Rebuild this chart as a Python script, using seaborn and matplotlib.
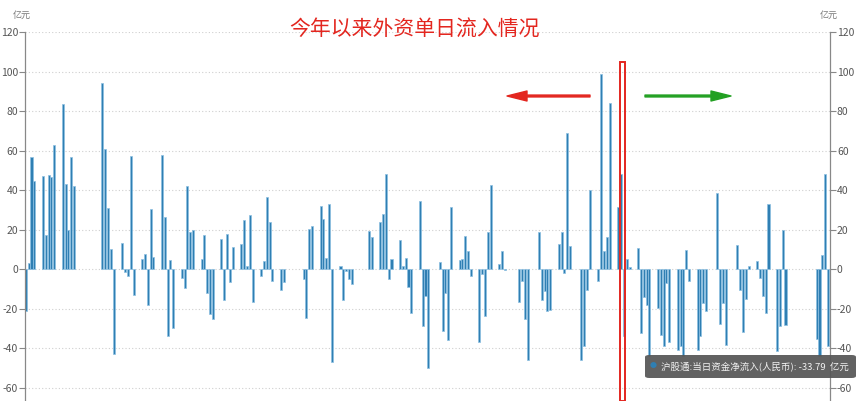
import numpy as np
import pandas as pd
import matplotlib
matplotlib.use("Agg")
import matplotlib.pyplot as plt
import seaborn as sns
from matplotlib.patches import Rectangle, FancyBboxPatch

sns.set_theme(style="white")
plt.rcParams['font.family'] = ['Noto Sans CJK SC', 'DejaVu Sans']
plt.rcParams['axes.unicode_minus'] = False

# 沪股通 daily net inflow (亿元), 2023, trading days per month
jan_d = [3, 4, 5, 6, 9, 10, 11, 12, 13, 16, 17, 18, 19, 20, 30, 31]
jan_v = [-21, 3, 56.5, 44.5, 47, 17, 47.7, 46.4, 62.7, 83.5, 43, 19.7, 56.7, 42, 94, 60.8]
feb_d = [1, 2, 3, 6, 7, 8, 9, 10, 13, 14, 15, 16, 17, 20, 21, 22, 23, 24, 27, 28]
feb_v = [31, 10, -43, 13, -1.7, -3.7, 57, -13.3, 5.2, 7.8, -18, 30.4, 6.2,
         57.9, 26.3, -34, 4.7, -30, -4.6, -9.6]
mar_d = [1, 2, 3, 6, 7, 8, 9, 10, 13, 14, 15, 16, 17, 20, 21, 22, 23, 24, 27, 28, 29, 30, 31]
mar_v = [42.2, 18.6, 20, 5, 17, -12, -23, -25.3, 15.4, -15.5, 17.7, -6.8, 11,
         12.8, 24.6, 1.3, 27.3, -16.7, -3.4, 3.9, 36.3, 23.8, -6.2]
apr_d = [3, 4, 11, 12, 13, 14, 17, 18, 19, 20, 21, 24, 25, 26, 27, 28]
apr_v = [-10.5, -6.6, -5, -24.8, 20.3, 21.6, 31.7, 25.3, 5.6, 33, -47, 1.7, -15.5, -1, -4.9, -7.6]
may_d = [4, 5, 8, 9, 10, 11, 12, 15, 16, 17, 18, 19, 22, 23, 24, 25, 29, 30, 31]
may_v = [19.4, 16, 23.6, 28, 48.1, -5, 5.2, 14.9, 1.4, 5.6, -9.1, -22.3,
         34.6, -28.7, -13.8, -50, 3.4, -31.6, -12]
jun_d = [1, 2, 5, 6, 7, 8, 9, 12, 13, 14, 15, 16, 19, 20, 21, 26, 27, 28, 29]
jun_v = [-35.8, 31.4, 4.7, 5, 16.5, 9, -3.7, -37, -2.4, -24, 19, 42.4,
         2.5, 9.3, -0.5, -16.7, -6, -25.3, -46]
jul_d = [3, 4, 5, 6, 7, 10, 11, 12, 13, 14, 18, 19, 20, 21, 24, 25, 26, 27, 28, 31]
jul_v = [18.7, -15.5, -11.3, -21.4, -20.6, 12.7, 19, -2, 68.9, 11.5,
         -46, -39, -10.5, 40.2, -6.2, 98.7, 9.3, 16.2, 84, 31.4]
aug_d = [1, 2, 3, 4, 7, 8, 9, 10, 11, 14, 15, 16, 17, 18, 21, 22, 23, 24, 25, 28, 29, 30, 31]
aug_v = [48, -33.8, 5.2, 1, 10.6, -32.4, -14.3, -18, -44, -19.7, -33.2, -38.8, -7, -37.1,
         -40.8, -39, -44, 9.8, -6.2, -40.8, -34, -17.2, -21]
sep_d = [4, 5, 6, 7, 11, 12, 13, 14, 15, 18, 19, 20, 21, 22, 25, 26, 27, 28]
sep_v = [38.5, -27.8, -17.2, -38.3, 12.3, -10.5, -32, -15, 1.7,
         3.9, -4.6, -13.8, -22.3, 33, -41.7, -29, 20, -28.2]
oct_d = [9, 10, 11, 12, 13]
oct_v = [-35.4, -44, 7.3, 48.3, -39]

yticks = [-60, -40, -20, 0, 20, 40, 60, 80, 100, 120]

months = [(1, jan_d, jan_v), (2, feb_d, feb_v), (3, mar_d, mar_v), (4, apr_d, apr_v),
          (5, may_d, may_v), (6, jun_d, jun_v), (7, jul_d, jul_v), (8, aug_d, aug_v),
          (9, sep_d, sep_v), (10, oct_d, oct_v)]
rows = []
for m, ds, vs in months:
    for d, v in zip(ds, vs):
        rows.append((pd.Timestamp(2023, m, d), v))
df = pd.DataFrame(rows, columns=["date", "flow"])
df["day"] = (df["date"] - pd.Timestamp(2023, 1, 3)).dt.days

fig = plt.figure(figsize=(8.65, 4.01), dpi=100)
ax = fig.add_axes([25 / 865, 0, 805 / 865, 369 / 401])

sns.barplot(data=df, x="day", y="flow", native_scale=True, width=0.72,
            color="#2f7fb3", saturation=1, edgecolor="#8cc0e2", linewidth=0.5,
            errorbar=None, ax=ax)

ax.set_xlim(-0.3, 283.7)
ax.set_ylim(-66.8, 120)
ax.set_xlabel("")
ax.set_ylabel("")
ax.set_xticks([])
ax.set_yticks(yticks)
ax.yaxis.grid(True, linestyle=(0, (1, 2)), color="#cfcfcf", lw=0.8)
ax.set_axisbelow(True)
for s in ["top", "bottom", "right"]:
    ax.spines[s].set_visible(False)
ax.spines["left"].set_color("#888888")
ax.spines["left"].set_linewidth(0.9)
ax.tick_params(axis="y", left=True, length=4, width=0.8, color="#888888",
               labelsize=7.5, labelcolor="#555555", pad=1)

ax2 = ax.twinx()
ax2.set_ylim(ax.get_ylim())
ax2.set_yticks(yticks)
for s in ["top", "bottom", "left"]:
    ax2.spines[s].set_visible(False)
ax2.spines["right"].set_color("#888888")
ax2.spines["right"].set_linewidth(0.9)
ax2.tick_params(axis="y", right=True, length=4, width=0.8, color="#888888",
                labelsize=7.5, labelcolor="#555555", pad=1)

# units
fig.text(22 / 865, 1 - 15 / 401, "亿元", fontsize=6.5, color="#777777", ha="center", va="center")
fig.text(829 / 865, 1 - 15 / 401, "亿元", fontsize=6.5, color="#777777", ha="center", va="center")

# title
fig.text(415 / 865, 1 - 30 / 401, "今年以来外资单日流入情况", fontsize=15,
         color="#e3261f", ha="center", va="center")

# arrows
arrow_style = "simple,head_length=1.6,head_width=0.8,tail_width=0.15"
ax.annotate("", xy=(507, 305), xytext=(590, 305), xycoords="figure pixels",
            textcoords="figure pixels",
            arrowprops=dict(arrowstyle=arrow_style, color="#e3261f",
                            mutation_scale=9, shrinkA=0, shrinkB=0))
ax.annotate("", xy=(731, 305), xytext=(645, 305), xycoords="figure pixels",
            textcoords="figure pixels",
            arrowprops=dict(arrowstyle=arrow_style, color="#22a022",
                            mutation_scale=9, shrinkA=0, shrinkB=0))

# red highlight box
fig.patches.append(Rectangle((619.5 / 865, 0), 5 / 865, 339 / 401, transform=fig.transFigure,
                             fill=False, edgecolor="#e3261f", lw=1.4, zorder=5))

# tooltip
fig.patches.append(FancyBboxPatch((645 / 865, 23 / 401), 211 / 865, 23 / 401,
                                  boxstyle="round,pad=0,rounding_size=0.005",
                                  transform=fig.transFigure, facecolor="#555555",
                                  edgecolor="none", alpha=0.92, zorder=6))
fig.text(653 / 865, 35 / 401, "●", fontsize=5, color="#2f7fb3", ha="center", va="center", zorder=7)
fig.text(661 / 865, 35 / 401, "沪股通:当日资金净流入(人民币): -33.79  亿元", fontsize=6.8,
         color="#f2f2f2", ha="left", va="center", zorder=7)

fig.savefig("out.png", dpi=100)
